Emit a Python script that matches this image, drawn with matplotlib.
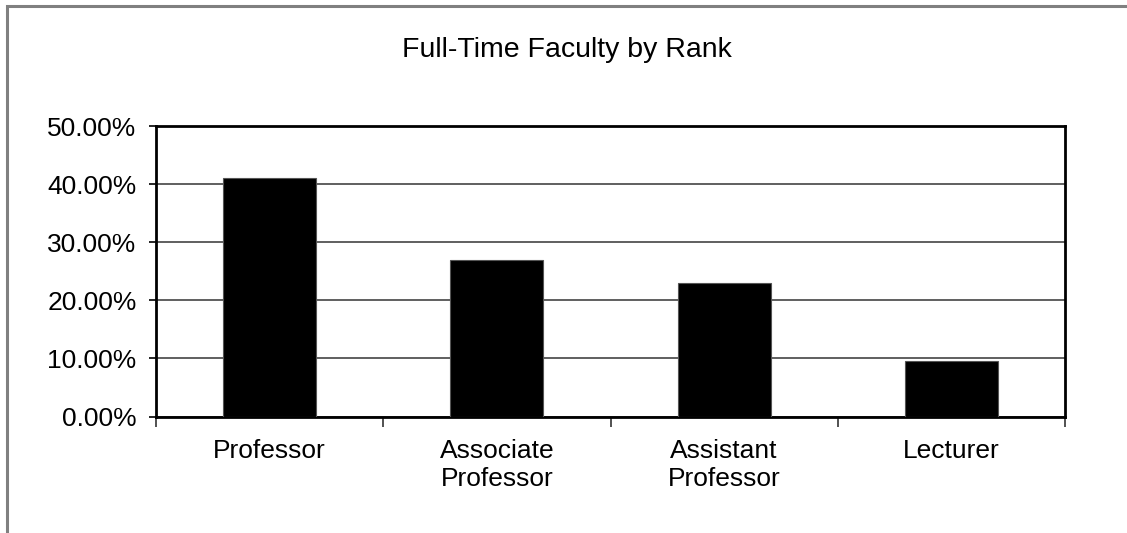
import matplotlib
matplotlib.use("Agg")
import matplotlib.pyplot as plt
from matplotlib.ticker import FuncFormatter, FixedLocator
from matplotlib.patches import Rectangle

categories = ["Professor", "Associate\nProfessor", "Assistant\nProfessor", "Lecturer"]
values = [41.0, 26.9, 23.0, 9.55]
yticks = [0, 10, 20, 30, 40, 50]

plt.rcParams['font.family'] = ['Liberation Sans', 'DejaVu Sans']

fig = plt.figure(figsize=(11.27, 5.33), dpi=100)
fig.patches.append(Rectangle((7/1127, -0.1), 1.2, 1 - 6/533 + 0.1, transform=fig.transFigure,
                             fill=False, edgecolor='#808080', linewidth=2.2))
ax = fig.add_axes([156/1127, 1 - 416.5/533, (1065 - 156)/1127, (416.5 - 126)/533])

x = list(range(len(categories)))
ax.bar(x, values, width=0.41, color='black', edgecolor='#555555', linewidth=0.8, zorder=3)

ax.set_xlim(-0.5, len(categories) - 0.5)
ax.set_ylim(0, 50)
ax.set_yticks(yticks)
ax.yaxis.set_major_formatter(FuncFormatter(lambda v, p: f"{v:.2f}%"))
ax.yaxis.grid(True, color='#444444', linewidth=1.2, zorder=0)
ax.set_axisbelow(True)

ax.set_xticks(x)
ax.set_xticklabels(categories, fontsize=19, linespacing=1.2)
ax.xaxis.set_minor_locator(FixedLocator([i - 0.5 for i in range(len(categories) + 1)]))
ax.tick_params(axis='x', which='major', length=0, pad=16)
ax.tick_params(axis='x', which='minor', length=7, width=1.2, direction='out', color='#333333')
ax.tick_params(axis='y', length=5, width=1.2, direction='out', labelsize=19, pad=9)

for s in ax.spines.values():
    s.set_linewidth(2)
    s.set_color('black')

fig.text(567/1127, 1 - 50/533, "Full-Time Faculty by Rank", ha='center', va='center', fontsize=20.5)

fig.savefig("out.png", dpi=100)
